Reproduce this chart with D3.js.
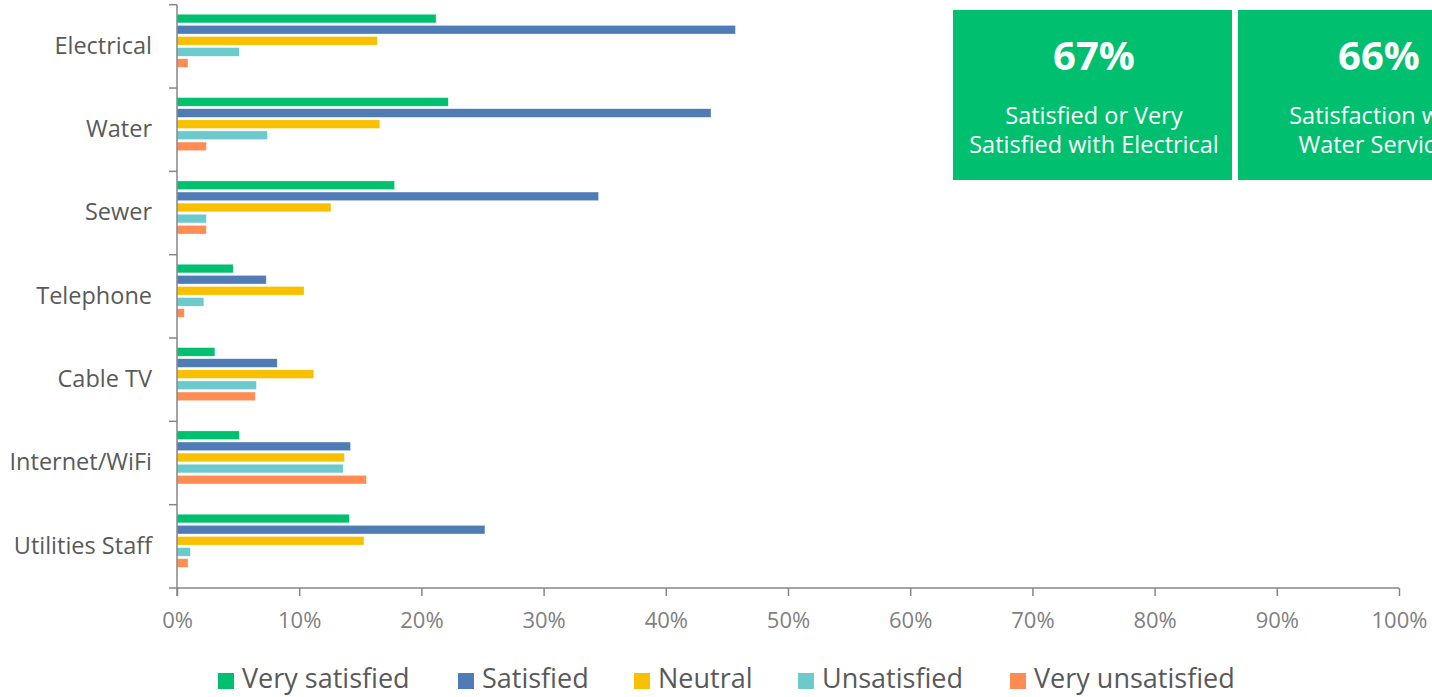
<!DOCTYPE html>
<html>
<head>
<meta charset="utf-8">
<script src="https://cdn.jsdelivr.net/npm/d3@7"></script>
<style>
  html, body { margin: 0; padding: 0; background: #fff; overflow: hidden; }
  svg { display: block; font-family: "Open Sans", Lato, sans-serif; }
</style>
</head>
<body>
<svg id="chart" width="1432" height="697"></svg>
<script>
const categories = ['Electrical', 'Water', 'Sewer', 'Telephone', 'Cable TV', 'Internet/WiFi', 'Utilities Staff'];
const seriesNames = ['Very satisfied', 'Satisfied', 'Neutral', 'Unsatisfied', 'Very unsatisfied'];
const seriesColors = ['#00bf6f', '#4f7cb5', '#f9c000', '#6cc9cc', '#ff8c52'];

const verySatisfied   = [21.2, 22.2, 17.8, 4.6, 3.1, 5.1, 14.1];
const satisfied       = [45.7, 43.7, 34.5, 7.3, 8.2, 14.2, 25.2];
const neutral         = [16.4, 16.6, 12.6, 10.4, 11.2, 13.7, 15.3];
const unsatisfied     = [5.1, 7.4, 2.4, 2.2, 6.5, 13.6, 1.1];
const veryUnsatisfied = [0.9, 2.4, 2.4, 0.6, 6.4, 15.5, 0.9];
const seriesValues = [verySatisfied, satisfied, neutral, unsatisfied, veryUnsatisfied];

const xTicks = [0, 10, 20, 30, 40, 50, 60, 70, 80, 90, 100];

const cardValues = ['67%', '66%'];
const cardLines = [['Satisfied or Very', 'Satisfied with Electrical'], ['Satisfaction with', 'Water Services']];

const svg = d3.select('#chart');
const axisColor = '#868686';

const x = d3.scaleLinear().domain([0, 100]).range([177, 1399]);
const y = d3.scaleBand().domain(categories).range([4.7, 588]);
// Excel reserves six slots per category; the last one is empty
const slot = d3.scaleBand().domain(d3.range(6)).range([0, y.bandwidth()])
  .paddingInner(0.22).paddingOuter(0.86);

// bars
const rows = [];
categories.forEach((c, ci) => {
  seriesValues.forEach((vals, si) => rows.push({ cat: c, si, v: vals[ci] }));
});
svg.append('g')
  .selectAll('rect')
  .data(rows)
  .join('rect')
  .attr('x', x(0))
  .attr('y', d => y(d.cat) + slot(d.si))
  .attr('width', d => x(d.v) - x(0))
  .attr('height', slot.bandwidth())
  .attr('fill', d => seriesColors[d.si])
  .attr('stroke', 'rgba(255,255,255,0.6)')
  .attr('stroke-width', 0.6);

// x axis
const xAxis = svg.append('g')
  .attr('transform', 'translate(0,588)')
  .call(d3.axisBottom(x).tickValues(xTicks).tickFormat(d => d + '%').tickSize(8).tickSizeOuter(0));
xAxis.select('.domain').attr('stroke', axisColor).attr('stroke-width', 1.5).attr('d', 'M169,0H1399');
xAxis.selectAll('.tick line').attr('stroke', axisColor).attr('stroke-width', 1.5);
xAxis.selectAll('.tick text')
  .attr('y', 32)
  .attr('dy', '0.35em')
  .attr('fill', '#7f7f7f')
  .style('font-family', '"Open Sans", Lato, sans-serif')
  .style('font-size', '22px');

// y axis with ticks between categories
const yAxis = svg.append('g').attr('transform', 'translate(177,0)');
yAxis.append('line')
  .attr('x1', 0).attr('x2', 0).attr('y1', 4.7).attr('y2', 596)
  .attr('stroke', axisColor).attr('stroke-width', 1.5);
yAxis.selectAll('.ytick')
  .data(categories)
  .join('line')
  .attr('class', 'ytick')
  .attr('x1', -8).attr('x2', 0)
  .attr('y1', d => y(d)).attr('y2', d => y(d))
  .attr('stroke', axisColor).attr('stroke-width', 1.5);
yAxis.selectAll('.ylabel')
  .data(categories)
  .join('text')
  .attr('class', 'ylabel')
  .attr('x', -25)
  .attr('y', d => y(d) + y.bandwidth() / 2 - 1)
  .attr('dy', '0.35em')
  .attr('text-anchor', 'end')
  .attr('fill', '#595959')
  .style('font-size', '23.5px')
  .text(d => d);

// legend
const legendX = [218, 458, 634, 798, 1010];
const legend = svg.append('g').attr('transform', 'translate(0,679)');
const li = legend.selectAll('g').data(seriesNames).join('g')
  .attr('transform', (d, i) => `translate(${legendX[i]},0)`);
li.append('rect').attr('x', 0).attr('y', -6).attr('width', 16).attr('height', 16)
  .attr('fill', (d, i) => seriesColors[i]);
li.append('text').attr('x', 24).attr('dy', '0.35em')
  .attr('fill', '#595959').style('font-size', '27px').text(d => d);

// summary cards
const cardX = [953, 1238];
const card = svg.selectAll('.card').data(cardValues).join('g')
  .attr('class', 'card')
  .attr('transform', (d, i) => `translate(${cardX[i]},10)`);
card.append('rect').attr('width', 279).attr('height', 170).attr('fill', '#00bf6f');
card.append('text')
  .attr('x', 141).attr('y', 46).attr('dy', '0.35em')
  .attr('text-anchor', 'middle').attr('fill', '#fff')
  .style('font-size', '40px').style('font-weight', 700)
  .text(d => d);
card.each(function(d, i) {
  d3.select(this).selectAll('.sub').data(cardLines[i]).join('text')
    .attr('class', 'sub')
    .attr('x', 141).attr('y', (t, k) => 106 + k * 29).attr('dy', '0.35em')
    .attr('text-anchor', 'middle').attr('fill', '#fff')
    .style('font-size', '23.5px')
    .text(t => t);
});
</script>
</body>
</html>
